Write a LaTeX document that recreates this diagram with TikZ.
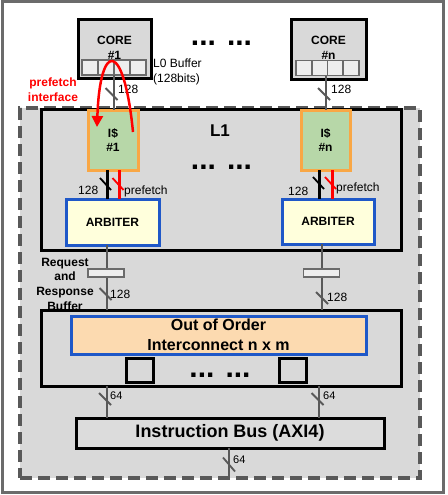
\documentclass[tikz,border=0pt]{standalone}
\usepackage{fontspec}
\setmainfont{Liberation Sans}
\usetikzlibrary{arrows.meta}
\definecolor{bggray}{HTML}{D9D9D9}
\definecolor{framegray}{HTML}{6B6B6B}
\definecolor{linegray}{HTML}{595959}
\definecolor{cellfill}{HTML}{EEEEEE}
\definecolor{cachefill}{HTML}{B7D7A8}
\definecolor{cacheedge}{HTML}{F9A745}
\definecolor{arbfill}{HTML}{FFFFDC}
\definecolor{blueedge}{HTML}{1F58C8}
\definecolor{icfill}{HTML}{FCDAB0}
\definecolor{busfill}{HTML}{DCDCDC}
\definecolor{redline}{HTML}{FF0000}
\begin{document}
\begin{tikzpicture}[x=1pt,y=-1pt,
  boxbase/.style={draw,line width=3pt,inner sep=0pt,outer sep=0pt,align=center},
  blackbox/.style={boxbase,draw=black,fill=bggray},
  corebox/.style={boxbase,draw=black,fill=bggray},
  cell/.style={draw=framegray,line width=1.8pt,fill=cellfill,inner sep=0pt,outer sep=0pt,minimum height=15pt},
  cachebox/.style={boxbase,draw=cacheedge,fill=cachefill,font=\fontsize{12}{14.5}\selectfont\bfseries},
  arbbox/.style={boxbase,draw=blueedge,fill=arbfill,font=\fontsize{12}{14}\selectfont\bfseries},
  icbox/.style={boxbase,draw=blueedge,fill=icfill,font=\fontsize{16}{20}\selectfont\bfseries},
  busbox/.style={boxbase,draw=black,fill=busfill,font=\fontsize{18}{20}\selectfont\bfseries},
  port/.style={draw=black,line width=3pt,fill=bggray,inner sep=0pt,minimum width=27pt,minimum height=24pt},
  rrbuf/.style={draw=framegray,line width=1.8pt,fill=cellfill,inner sep=0pt,minimum width=36pt,minimum height=8pt},
  conn/.style={draw=linegray,line width=2.7pt},
  blackconn/.style={draw=black,line width=3pt},
  redconn/.style={draw=redline,line width=3pt},
  slashg/.style={draw=linegray,line width=1.8pt},
  slashk/.style={draw=black,line width=1.8pt},
  slashr/.style={draw=redline,line width=1.8pt},
  lbl/.style={font=\fontsize{12}{14}\selectfont,inner sep=0pt,anchor=west},
  lblsmall/.style={font=\fontsize{11}{13}\selectfont,inner sep=0pt,anchor=west},
  dots/.style={font=\fontsize{30}{30}\selectfont\bfseries,inner sep=0pt,anchor=base}
]
\useasboundingbox (0,0) rectangle (447,495);
% outer frame
\node[draw=framegray,line width=3pt,fill=white,minimum width=441pt,minimum height=490pt,inner sep=0pt] (frame) at (222.5,247) {};
% dashed region
\node[draw=linegray,fill=bggray,line width=3.5pt,dash pattern=on 12pt off 6pt,minimum width=400pt,minimum height=370pt,inner sep=0pt] (region) at (220,293) {};
% L1 box
\node[blackbox,minimum width=360pt,minimum height=141pt] (l1) at (221,179.5) {};
\node[font=\fontsize{17}{17}\selectfont\bfseries,inner sep=0pt] (l1t) at (220,131) {L1};
\node[dots] (l1dots) at (221.5,169) {... ...};
% Request/Response label (drawn before lower box)
\node[font=\fontsize{12}{14.7}\selectfont\bfseries,align=center,inner sep=0pt] (rrt) at (65,284) {Request\\and\\Response\\Buffer};
% lower interconnect box
\node[blackbox,minimum width=360pt,minimum height=76pt] (lower) at (221,348) {};
\node[icbox,minimum width=295pt,minimum height=38pt] (ic) at (218.5,335) {Out of Order\\Interconnect n x m};
\node[port] (p1) at (139.5,370) {};
\node[port] (pn) at (292.5,370) {};
\node[dots] (icdots) at (220,377) {... ...};
% instruction bus
\node[busbox,minimum width=308pt,minimum height=30pt] (bus) at (230,433) {Instruction Bus (AXI4)};
% cores
\node[corebox,minimum width=73pt,minimum height=58pt] (core1) at (114.5,49) {};
\node[corebox,minimum width=75pt,minimum height=59pt] (coren) at (328.5,49.5) {};
\node[font=\fontsize{12}{15}\selectfont\bfseries,align=center,inner sep=0pt] (core1t) at (114.5,48) {CORE\\\#1};
\node[font=\fontsize{12}{15}\selectfont\bfseries,align=center,inner sep=0pt] (corent) at (328.5,48) {CORE\\\#n};
\node[dots] (topdots) at (221.5,46) {... ...};
% L0 buffers
\foreach \i in {0,1,2,3} {
  \node[cell,minimum width=16pt] (b1c\i) at (90+16*\i,67.5) {};
  \node[cell,minimum width=15.75pt] (bnc\i) at (303.9+15.75*\i,68) {};
}
\node[font=\fontsize{12}{14.5}\selectfont,align=left,inner sep=0pt,anchor=north west] (l0t) at (153,59) {L0 Buffer\\(128bits)};
% caches
\node[cachebox,minimum width=50pt,minimum height=60pt] (is1) at (113,140) {I\$\\\#1};
\node[cachebox,minimum width=49pt,minimum height=60pt] (isn) at (325.5,140) {I\$\\\#n};
% arbiters
\node[arbbox,minimum width=93pt,minimum height=46pt] (arb1) at (112.5,222) {ARBITER};
\node[arbbox,minimum width=92pt,minimum height=45pt] (arbn) at (328,221.5) {ARBITER};
% core -> cache connectors
\coordinate (c1b) at (114,75);
\coordinate (cnb) at (326,75.5);
\draw[conn] (c1b) -- (c1b |- is1.north);
\draw[conn] (cnb) -- (cnb |- isn.north);
\draw[slashg] (111.5,94) ++(-6,-6) -- ++(12,12);
\node[lbl] (t128a) at (118,89) {128};
\draw[slashg] (324,94) ++(-6,-6) -- ++(12,12);
\node[lbl] (t128b) at (331,89) {128};
% cache -> arbiter connectors
\coordinate (k1) at (107,170);
\coordinate (r1) at (119,170);
\coordinate (kn) at (319,170);
\coordinate (rn) at (332,170);
\draw[blackconn] (k1) -- (k1 |- arb1.north);
\draw[redconn] (r1) -- (r1 |- arb1.north);
\draw[blackconn] (kn) -- (kn |- arbn.north);
\draw[redconn] (rn) -- (rn |- arbn.north);
\draw[slashk] (105.5,184) ++(-5.5,-6) -- ++(11,12);
\draw[slashr] (118,184) ++(-5.5,-6) -- ++(11,12);
\draw[slashk] (318.5,183) ++(-5.5,-6) -- ++(11,12);
\draw[slashr] (330.5,183) ++(-5.5,-6) -- ++(11,12);
\node[lbl] (t128c) at (78,190) {128};
\node[lbl] (tpf1) at (124,191) {prefetch};
\node[lbl] (t128d) at (288,191) {128};
\node[lbl] (tpfn) at (336,188) {prefetch};
% arbiter -> interconnect
\coordinate (a1b) at (107,245);
\coordinate (anb) at (322,244);
\draw[conn] (a1b) -- (a1b |- lower.north);
\draw[conn] (anb) -- (anb |- lower.north);
\node[rrbuf] (rr1) at (106,273) {};
\node[rrbuf] (rrn) at (321.5,273) {};
\draw[slashg] (105.5,294) ++(-6,-6) -- ++(12,12);
\node[lbl] (t128e) at (110,294) {128};
\draw[slashg] (322,298) ++(-6,-6) -- ++(12,12);
\node[lbl] (t128f) at (327,297) {128};
% interconnect -> bus
\coordinate (l1b) at (107,386);
\coordinate (lnb) at (319,386);
\draw[conn] (l1b) -- (l1b |- bus.north);
\draw[conn] (lnb) -- (lnb |- bus.north);
\draw[slashg] (105,399) ++(-6,-6) -- ++(12,12);
\node[lblsmall] (t64a) at (110,396) {64};
\draw[slashg] (317.5,399) ++(-6,-6) -- ++(12,12);
\node[lblsmall] (t64b) at (323,396) {64};
% bus -> out
\coordinate (bb) at (229,478);
\draw[conn] (bus.south -| bb) -- (bb);
\draw[slashg] (229,464.5) ++(-6,-7) -- ++(12,14);
\node[lblsmall] (t64c) at (233,460) {64};
% prefetch interface
\coordinate (pfs) at (133,132);
\coordinate (pfe) at (97,127);
\draw[redconn,line width=2.5pt,-{Triangle[length=11pt,width=11pt]}] (pfs) .. controls (124,40) and (100,40) .. (pfe);
\node[font=\fontsize{12}{15}\selectfont\bfseries,text=redline,align=center,inner sep=0pt] (pft) at (53,89.5) {prefetch\\interface};
\end{tikzpicture}
\end{document}
